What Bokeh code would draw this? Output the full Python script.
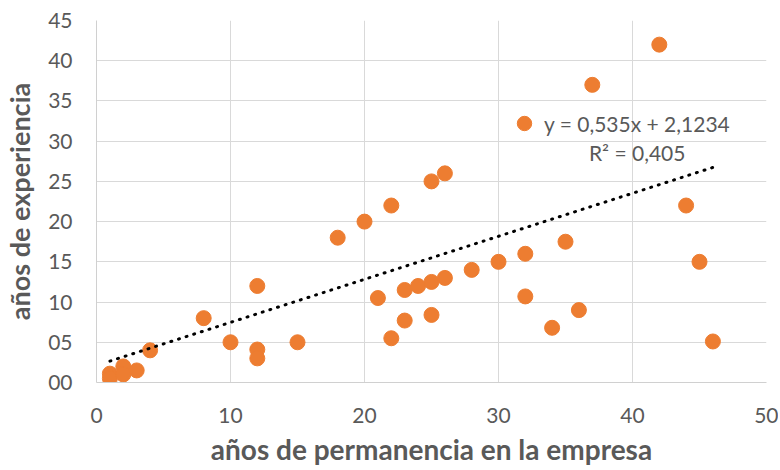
from bokeh.plotting import figure
from bokeh.models import ColumnDataSource, FixedTicker, Legend, LegendItem, Label
from bokeh.embed import file_html
from bokeh.resources import INLINE

# data
permanencia = [1, 1, 2, 2, 3, 4, 8, 10, 12, 12, 12, 15, 18, 20, 21, 22, 22, 23, 23, 24,
               25, 25, 25, 26, 26, 28, 30, 32, 32, 34, 35, 36, 37, 42, 44, 45, 46]
experiencia = [1.1, 0.5, 2.0, 1.0, 1.5, 4.0, 8.0, 5.0, 12.0, 4.1, 3.0, 5.0, 18.0, 20.0, 10.5, 22.0, 5.5, 11.5, 7.7, 12.0,
               25.0, 12.5, 8.4, 26.0, 13.0, 14.0, 15.0, 16.0, 10.7, 6.8, 17.5, 9.0, 37.0, 42.0, 22.0, 15.0, 5.1]
slope = 0.535
intercept = 2.1234
eq_label = "y = 0,535x + 2,1234"
r2_label = "R² = 0,405"
x_ticks = [0, 10, 20, 30, 40, 50]
y_ticks = [0, 5, 10, 15, 20, 25, 30, 35, 40, 45]
y_tick_labels = ["00", "05", "10", "15", "20", "25", "30", "35", "40", "45"]
x_title = "años de permanencia en la empresa"
y_title = "años de experiencia"

FONT = "Lato"
GREY = "#595959"
ORANGE = "#ED7D31"

p = figure(width=778, height=468, output_backend="svg", toolbar_location=None,
           x_range=(0, 50), y_range=(0, 45),
           min_border_left=95, min_border_right=12, min_border_top=20, min_border_bottom=84)
p.outline_line_color = None
p.background_fill_color = "white"
p.border_fill_color = "white"

src = ColumnDataSource(dict(x=permanencia, y=experiencia))
pts = p.scatter("x", "y", source=src, size=15, color=ORANGE, line_color=ORANGE)

x0, x1 = min(permanencia), max(permanencia)
tsrc = ColumnDataSource(dict(x=[x0, x1], y=[slope * x0 + intercept, slope * x1 + intercept]))
p.line("x", "y", source=tsrc, line_color="black", line_width=3, line_dash="1 7", line_cap="round")

for ax, ticks in ((p.xaxis, x_ticks), (p.yaxis, y_ticks)):
    ax.ticker = FixedTicker(ticks=ticks)
    ax.major_tick_line_color = None
    ax.minor_tick_line_color = None
    ax.major_tick_out = 0
    ax.major_tick_in = 0
    ax.minor_tick_out = 0
    ax.axis_line_color = "#D0D0D0"
    ax.axis_line_width = 1
    ax.major_label_text_font = FONT
    ax.major_label_text_font_size = "21px"
    ax.major_label_text_color = GREY
    ax.axis_label_text_font = FONT
    ax.axis_label_text_font_style = "bold"
    ax.axis_label_text_color = GREY

p.xaxis.axis_label_text_font_size = "28px"
p.yaxis.axis_label_text_font_size = "27px"
p.yaxis.major_label_overrides = {t: l for t, l in zip(y_ticks, y_tick_labels)}
p.xaxis.major_label_standoff = 25
p.yaxis.major_label_standoff = 24
p.xaxis.axis_label = x_title
p.yaxis.axis_label = y_title
p.xaxis.axis_label_standoff = 6
p.yaxis.axis_label_standoff = 9

p.xgrid.ticker = FixedTicker(ticks=x_ticks)
p.ygrid.ticker = FixedTicker(ticks=y_ticks)
p.grid.grid_line_color = "#D9D9D9"
p.grid.grid_line_width = 1

legend = Legend(items=[LegendItem(label=eq_label, renderers=[pts])],
                location=(410, 241), margin=0, padding=0, spacing=0,
                glyph_width=36, glyph_height=36, label_standoff=2,
                label_text_font=FONT, label_text_font_size="21px", label_text_color=GREY,
                background_fill_alpha=0, border_line_color=None)
p.add_layout(legend)

p.add_layout(Label(x=40.35, y=28.6, text=r2_label, text_align="center", text_baseline="middle",
                   text_font=FONT, text_font_size="21px", text_color=GREY))

open("out.html", "w").write(file_html(p, INLINE))
